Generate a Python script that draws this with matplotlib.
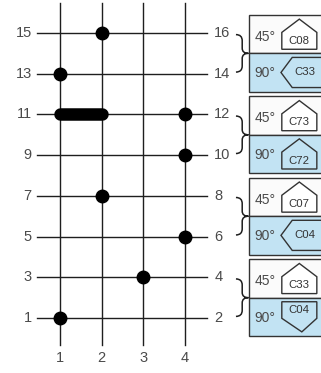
import numpy as np
import matplotlib
matplotlib.use('Agg')
import matplotlib.pyplot as plt
from matplotlib.path import Path
from matplotlib.patches import PathPatch, Rectangle, Polygon

plt.rcParams['font.family'] = ['Liberation Sans', 'DejaVu Sans']

# grid / data
cols = [1, 2, 3, 4]
rows = [1, 3, 5, 7, 9, 11, 13, 15]
right_labels = [2, 4, 6, 8, 10, 12, 14, 16]

dot_x = [2, 1, 4, 4, 2, 4, 3, 1]
dot_y = [15, 13, 11, 9, 7, 5, 3, 1]
bar_x = [1, 2]
bar_y = [11, 11]

# boxes on the right (one per pair of right labels)
grp_rows = [(15, 13), (11, 9), (7, 5), (3, 1)]
top_angle = '45°'
bot_angle = '90°'
top_codes = ['C08', 'C73', 'C07', 'C33']
top_shapes = ['house', 'house', 'house', 'house']
bot_codes = ['C33', 'C72', 'C04', 'C04']
bot_shapes = ['left', 'house', 'left', 'down']

ink = '#1e1e1e'
txt = '#4a4a4a'
blue = '#c2e3f3'

fig = plt.figure(figsize=(3.21, 3.73), dpi=100)
ax = fig.add_axes([0, 0, 1, 1])
ax.set_xlim(-0.44, 7.26)
ax.set_ylim(-1.70, 16.62)
ax.axis('off')

# grid lines
for c in cols:
    ax.plot([c, c], [-0.33, 16.45], color=ink, lw=1.0, zorder=1)
for r in rows:
    ax.plot([0.45, 4.53], [r, r], color=ink, lw=1.0, zorder=1)

# labels
for r in rows:
    ax.text(0.32, r, str(r), ha='right', va='center', fontsize=10.5, color=txt)
for r, lab in zip(rows, right_labels):
    ax.text(4.70, r, str(lab), ha='left', va='center', fontsize=10.5, color=txt)
for c in cols:
    ax.text(c, -0.98, str(c), ha='center', va='center', fontsize=10.5, color=txt)

# points
ax.plot(bar_x, bar_y, color='black', lw=9, solid_capstyle='round', zorder=3)
ax.plot(dot_x, dot_y, 'o', color='black', markersize=9, zorder=3)


def brace(div):
    x0, x1, x2 = 5.22, 5.37, 5.52
    yt, yb = div + 0.92, div - 0.92
    verts = [(x0, yt), (x1, yt), (x1, yt - 0.3),
             (x1, div + 0.25), (x1, div), (x2, div),
             (x1, div), (x1, div - 0.25),
             (x1, yb + 0.3), (x1, yb), (x0, yb)]
    codes = [Path.MOVETO, Path.CURVE3, Path.CURVE3,
             Path.LINETO, Path.CURVE3, Path.CURVE3,
             Path.CURVE3, Path.CURVE3,
             Path.LINETO, Path.CURVE3, Path.CURVE3]
    ax.add_patch(PathPatch(Path(verts, codes), fill=False, ec=ink, lw=1.1))


def icon(kind, code, yb, yt, face):
    xl, xr, xm = 6.32, 7.16, 6.74
    if kind == 'house':
        eave = yb + 0.56 * (yt - yb)
        pts = [(xl, yb), (xr, yb), (xr, eave), (xm, yt), (xl, eave)]
        ty = (yb + eave) / 2
        tx = xm
    elif kind == 'down':
        sh = yt - 0.55 * (yt - yb)
        pts = [(xl, yt), (xr, yt), (xr, sh), (6.80, yb), (xl, sh)]
        ty = (yt + sh) / 2
        tx = xm
    else:
        ym = (yt + yb) / 2
        pts = [(6.30, ym), (6.57, yt), (7.40, yt), (7.40, yb), (6.57, yb)]
        ty = ym
        tx = 6.88
    ax.add_patch(Polygon(pts, closed=True, fc=face, ec='#333333', lw=1.0, zorder=4))
    ax.text(tx, ty, code, ha='center', va='center', fontsize=8.2,
            color='#333333', zorder=5)


for (ra, rb), tc, ts, bc, bs in zip(grp_rows, top_codes, top_shapes,
                                    bot_codes, bot_shapes):
    div = (ra + rb) / 2
    h = 1.89
    ax.add_patch(Rectangle((5.53, div), 2.0, h, fc='#fbfbfb', ec='#333333', lw=1.0, zorder=2))
    ax.add_patch(Rectangle((5.53, div - h), 2.0, h, fc=blue, ec='#333333', lw=1.0, zorder=2))
    brace(div)
    ax.text(5.66, div + 0.82, top_angle, ha='left', va='center', fontsize=10,
            color=txt, zorder=5)
    ax.text(5.66, div - 0.98, bot_angle, ha='left', va='center', fontsize=10,
            color=txt, zorder=5)
    icon(ts, tc, div + 0.2, div + 1.68, 'white')
    icon(bs, bc, div - 1.68, div - 0.2, blue)

fig.savefig('out.png', dpi=100)
